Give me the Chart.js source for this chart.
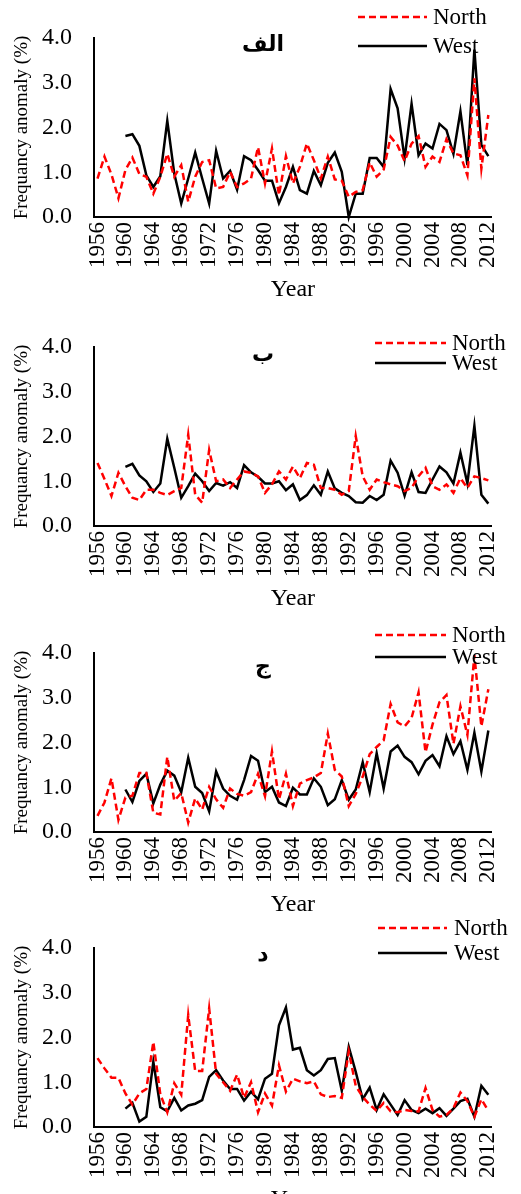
<!DOCTYPE html>
<html><head><meta charset="utf-8">
<script src="https://cdn.jsdelivr.net/npm/chart.js@4.4.1/dist/chart.umd.min.js"></script>
<style>
html,body{margin:0;padding:0;background:#fff;width:521px;height:1194px;overflow:hidden;}
.p{position:absolute;left:0;width:521px;height:310px;}
</style></head><body>
<div class="p" style="top:0px"><canvas id="c0" width="521" height="310"></canvas></div>
<div class="p" style="top:309px"><canvas id="c1" width="521" height="310"></canvas></div>
<div class="p" style="top:615px"><canvas id="c2" width="521" height="310"></canvas></div>
<div class="p" style="top:910px"><canvas id="c3" width="521" height="310"></canvas></div>
<script>
const years = [1956,1957,1958,1959,1960,1961,1962,1963,1964,1965,1966,1967,1968,1969,1970,1971,1972,1973,1974,1975,1976,1977,1978,1979,1980,1981,1982,1983,1984,1985,1986,1987,1988,1989,1990,1991,1992,1993,1994,1995,1996,1997,1998,1999,2000,2001,2002,2003,2004,2005,2006,2007,2008,2009,2010,2011,2012];
const panelTitles = ['الف','ب','ج','د'];
const seriesNames = ['North','West'];
const yAxisTitle = 'Frequancy anomaly (%)';
const xAxisTitle = 'Year';

// Panel الف
const northA = [0.86,1.35,0.95,0.42,1.05,1.33,0.96,0.90,0.52,0.90,
 1.41,0.90,1.16,0.34,0.90,1.23,1.27,0.64,0.67,1.01,
 0.67,0.75,0.86,1.56,0.75,1.53,0.49,1.36,0.75,1.12,
 1.64,1.27,0.86,1.35,0.84,0.81,0.45,0.56,0.60,1.22,
 0.90,1.06,1.79,1.60,1.25,1.64,1.81,1.12,1.35,1.23,
 1.74,1.42,1.38,0.93,3.10,1.08,2.28];
const westA = [null,null,null,null,1.81,1.85,1.59,0.93,0.67,0.91,
 2.15,0.97,0.30,0.86,1.44,0.86,0.30,1.48,0.86,1.03,
 0.61,1.36,1.27,1.05,0.81,0.81,0.31,0.67,1.12,0.60,
 0.52,1.03,0.71,1.21,1.44,1.01,0.00,0.52,0.52,1.32,
 1.32,1.12,2.86,2.43,1.31,2.53,1.38,1.64,1.53,2.08,
 1.94,1.41,2.36,1.16,3.74,1.61,1.36];
// Panel ب
const northB = [1.41,1.05,0.67,1.19,0.89,0.63,0.58,0.81,0.81,0.74,
 0.69,0.78,0.85,2.04,0.70,0.52,1.70,1.00,1.04,0.85,
 1.04,1.22,1.19,1.11,0.74,0.93,1.22,1.04,1.33,1.07,
 1.41,1.37,0.85,0.85,0.81,0.70,0.78,2.01,1.11,0.81,
 1.04,0.98,0.93,0.89,0.78,0.85,1.11,1.30,0.89,0.81,
 0.93,0.74,1.07,0.85,1.11,1.07,1.02];
const westB = [null,null,null,null,1.32,1.39,1.13,1.00,0.76,0.95,
 1.95,1.30,0.63,0.89,1.17,1.00,0.78,0.96,0.90,0.98,
 0.85,1.36,1.20,1.10,0.95,0.95,1.00,0.80,0.93,0.58,
 0.69,0.91,0.70,1.22,0.84,0.74,0.67,0.53,0.52,0.67,
 0.58,0.70,1.46,1.19,0.68,1.20,0.76,0.74,1.04,1.33,
 1.20,0.95,1.64,0.95,2.24,0.70,0.50];
// Panel ج
const northC = [0.36,0.66,1.20,0.27,0.77,0.81,1.32,1.32,0.43,0.39,
 1.68,0.70,0.87,0.21,0.75,0.50,1.01,0.73,0.54,0.97,
 0.85,0.81,0.89,1.30,0.80,1.80,0.73,1.30,0.58,1.08,
 1.16,1.22,1.32,2.20,1.39,1.24,0.58,0.85,1.24,1.74,
 1.90,2.05,2.86,2.45,2.36,2.55,3.12,1.78,2.40,2.90,
 3.06,1.97,2.81,2.17,3.95,2.36,3.19];
const westC = [null,null,null,null,0.95,0.67,1.14,1.30,0.64,1.06,
 1.37,1.26,0.89,1.66,1.01,0.87,0.46,1.35,0.97,0.81,
 0.72,1.16,1.70,1.59,0.89,1.01,0.66,0.58,0.99,0.84,
 0.84,1.20,1.01,0.60,0.73,1.16,0.72,0.95,1.56,0.89,
 1.76,0.97,1.80,1.93,1.68,1.56,1.29,1.59,1.72,1.47,
 2.14,1.74,2.03,1.39,2.22,1.35,2.27];
// Panel د
const northD = [1.54,1.31,1.10,1.10,0.75,0.50,0.75,0.85,1.90,0.73,
 0.33,0.98,0.72,2.50,1.25,1.25,2.65,1.19,1.00,0.81,
 1.17,0.65,1.00,0.33,0.75,0.48,1.38,0.79,1.08,1.02,
 0.98,1.02,0.73,0.67,0.69,0.65,1.69,0.92,0.67,0.50,
 0.36,0.54,0.35,0.33,0.38,0.36,0.35,0.87,0.38,0.23,
 0.27,0.42,0.77,0.58,0.23,0.62,0.36];
const westD = [null,null,null,null,0.41,0.54,0.12,0.23,1.46,0.44,
 0.35,0.65,0.37,0.48,0.52,0.60,1.12,1.27,1.04,0.85,
 0.85,0.59,0.79,0.62,1.08,1.19,2.27,2.67,1.73,1.77,
 1.27,1.15,1.27,1.52,1.54,0.81,1.79,1.23,0.62,0.88,
 0.38,0.73,0.50,0.27,0.60,0.38,0.31,0.41,0.31,0.42,
 0.25,0.41,0.58,0.63,0.23,0.92,0.72];

const panels = [
  {id:'c0', north:northA, west:westA, title:panelTitles[0], lay:{nY:17, wY:46, x0:358, x1:427, tx:433, titleY:45}},
  {id:'c1', north:northB, west:westB, title:panelTitles[1], lay:{nY:34, wY:54, x0:375, x1:446, tx:452, titleY:46}},
  {id:'c2', north:northC, west:westC, title:panelTitles[2], lay:{nY:20, wY:42, x0:375, x1:446, tx:452, titleY:52}},
  {id:'c3', north:northD, west:westD, title:panelTitles[3], lay:{nY:18, wY:43, x0:378, x1:447, tx:454, titleY:45}}
];

const SERIF = "'Liberation Serif','Times New Roman',serif";
const H = 310, PLOT_TOP = 38, PLOT_BOTTOM = 217, PLOT_LEFT = 94;

const overlay = {
  id:'overlay',
  afterDraw(chart, args, opts){
    const ctx = chart.ctx, L = opts.lay;
    ctx.save();
    ctx.fillStyle = '#000';
    ctx.font = "bold 22px 'Liberation Serif','DejaVu Sans',serif";
    ctx.textAlign = 'center'; ctx.textBaseline = 'middle';
    ctx.fillText(opts.title, 263, L.titleY);
    const ys = [L.nY, L.wY];
    chart.data.datasets.forEach((ds, i) => {
      ctx.lineWidth = ds.borderWidth;
      ctx.strokeStyle = ds.borderColor;
      ctx.setLineDash(ds.borderDash || []);
      ctx.beginPath(); ctx.moveTo(L.x0, ys[i]); ctx.lineTo(L.x1, ys[i]); ctx.stroke();
      ctx.setLineDash([]);
      ctx.font = "23px " + SERIF;
      ctx.textAlign = 'left';
      ctx.fillStyle = '#000';
      ctx.fillText(ds.label, L.tx, ys[i] + 1);
    });
    ctx.restore();
  }
};

panels.forEach(p => {
  new Chart(document.getElementById(p.id), {
    type:'line',
    data:{labels: years, datasets:[
      {label:seriesNames[0], data:p.north, borderColor:'#ff0000', borderWidth:2.5, borderDash:[7,4], pointRadius:0, tension:0, fill:false, clip:false},
      {label:seriesNames[1], data:p.west, borderColor:'#000000', borderWidth:2.5, pointRadius:0, tension:0, fill:false, clip:false}
    ]},
    options:{
      responsive:false, animation:false, devicePixelRatio:1,
      layout:{padding:{left:0, right:6, top:PLOT_TOP, bottom:0}},
      plugins:{legend:{display:false}, tooltip:{enabled:false}, overlay:{title:p.title, lay:p.lay}},
      scales:{
        x:{
          type:'category', offset:true,
          grid:{display:false, drawTicks:false},
          border:{display:true, color:'#000', width:2},
          ticks:{autoSkip:false, maxRotation:90, minRotation:90, padding:5, color:'#000',
            font:{family:SERIF, size:23},
            callback(v, i){ const y = years[i]; return (y - years[0]) % 4 === 0 ? String(y) : ''; }},
          title:{display:true, text:xAxisTitle, color:'#000', font:{family:SERIF, size:24}, padding:{top:0, bottom:6}},
          afterFit(s){ s.height = H - PLOT_BOTTOM; }
        },
        y:{
          min:0, max:4,
          grid:{display:false, drawTicks:false},
          border:{display:true, color:'#000', width:2},
          ticks:{stepSize:1, padding:22, color:'#000', font:{family:SERIF, size:24}, callback:v => Number(v).toFixed(1)},
          title:{display:true, text:yAxisTitle, color:'#000', font:{family:SERIF, size:19}, padding:{top:11, bottom:0}},
          afterFit(s){ s.width = PLOT_LEFT; }
        }
      }
    },
    plugins:[overlay]
  });
});
</script>
</body></html>
